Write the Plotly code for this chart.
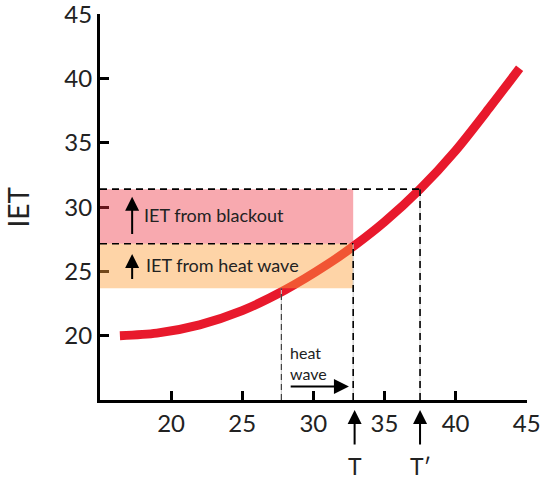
import plotly.graph_objects as go

# curve: temperature vs IET
temp = [16.4, 19.0, 22.0, 25.0, 28.0, 31.0, 33.0, 35.0, 37.5, 40.0, 42.5, 44.5]
iet = [20.0, 20.2, 20.85, 21.95, 23.55, 25.55, 27.1, 28.85, 31.4, 34.4, 37.9, 40.8]

ticks = [20, 25, 30, 35, 40, 45]

# marked levels
t_start = 27.75      # heat wave starts
t_now = 32.8         # T
t_prime = 37.5       # T'
iet_low = 23.7
iet_heat = 27.15
iet_black = 31.4

font = "Lato"
ink = "#222222"

fig = go.Figure()
fig.add_trace(go.Scatter(x=temp, y=iet, mode="lines",
                         line=dict(color="#e8192c", width=9, shape="spline", smoothing=0.8),
                         hoverinfo="skip", showlegend=False))

shapes = [
    dict(type="rect", x0=15, x1=t_now, y0=iet_heat, y1=iet_black, fillcolor="rgba(238,50,65,0.42)", line_width=0),
    dict(type="rect", x0=15, x1=t_now, y0=iet_low, y1=iet_heat, fillcolor="rgba(252,160,60,0.45)", line_width=0),
]
# faint guide lines under the dashes
for xv, yv in [(t_start, iet_low), (t_now, iet_heat), (t_prime, iet_black)]:
    shapes.append(dict(type="line", x0=xv, x1=xv, y0=15, y1=yv, line=dict(color="#cccccc", width=1)))
dash = dict(color="black", width=1.6, dash="7px,5px")
shapes += [
    dict(type="line", x0=15, x1=t_prime, y0=iet_black, y1=iet_black, line=dash),
    dict(type="line", x0=15, x1=t_now, y0=iet_heat, y1=iet_heat, line=dash),
    dict(type="line", x0=t_now, x1=t_now, y0=15, y1=iet_heat, line=dash),
    dict(type="line", x0=t_prime, x1=t_prime, y0=15, y1=iet_black, line=dash),
    dict(type="line", x0=t_start, x1=t_start, y0=15, y1=iet_low, line=dict(color="#333333", width=1.1, dash="6px,4px")),
]
for s in shapes:
    s.setdefault("layer", "above")
    s["xref"] = "x"
    s["yref"] = "y"


def arrow(x0, y0, x1, y1, size=1.4):
    return dict(x=x1, y=y1, ax=x0, ay=y0, xref="x", yref="y", axref="x", ayref="y", text="",
                showarrow=True, arrowhead=2, arrowsize=size, arrowwidth=2, arrowcolor="black")


def below_arrow(xv, label):
    # arrow pointing up at the x axis with its label underneath (paper y, so it is not hidden)
    return [
        dict(x=xv, y=-0.026, xref="x", yref="paper", ax=0, ay=36, text="", showarrow=True,
             arrowhead=2, arrowsize=1.4, arrowwidth=2, arrowcolor="black"),
        dict(x=xv, y=-0.172, xref="x", yref="paper", text=label, showarrow=False,
             xanchor="center", yanchor="middle", font=dict(family=font, size=23, color=ink)),
    ]


annotations = [
    arrow(17.26, 27.8, 17.26, 30.8),
    arrow(17.26, 24.3, 17.26, 26.35),
    dict(x=17.95, y=29.37, text="IET from blackout", showarrow=False, xanchor="left",
         font=dict(family=font, size=18, color=ink)),
    dict(x=18.1, y=25.5, text="IET from heat wave", showarrow=False, xanchor="left",
         font=dict(family=font, size=18, color=ink)),
    dict(x=28.2, y=17.85, text="heat<br>wave", showarrow=False, xanchor="left", align="left",
         font=dict(family=font, size=16, color=ink)),
    arrow(28.3, 16.05, 32.5, 16.05, size=1.5),
    dict(x=-0.193, y=0.5, xref="paper", yref="paper", text="IET", textangle=-90, showarrow=False,
         xanchor="center", yanchor="middle", font=dict(family=font, size=28, color=ink)),
]
annotations += below_arrow(t_now + 0.1, "T")
annotations += below_arrow(t_prime, "T\u2032")

axis = dict(range=[15, 45.02], tickvals=ticks, ticks="inside", ticklen=9, tickwidth=3, tickcolor="black",
            showline=True, linecolor="black", linewidth=3, showgrid=False, zeroline=False,
            automargin=False, ticklabeloverflow="allow",
            tickfont=dict(family=font, size=24, color=ink))

fig.update_layout(
    width=542, height=483,
    margin=dict(l=100, r=15, t=14, b=83),
    paper_bgcolor="white", plot_bgcolor="white",
    xaxis=axis, yaxis=axis,
    shapes=shapes, annotations=annotations,
)

# drop the page's default body margin so the figure sits at the window corner
fig.write_html("out.html", config={"displayModeBar": False},
               post_script="document.body.style.margin='0';")
